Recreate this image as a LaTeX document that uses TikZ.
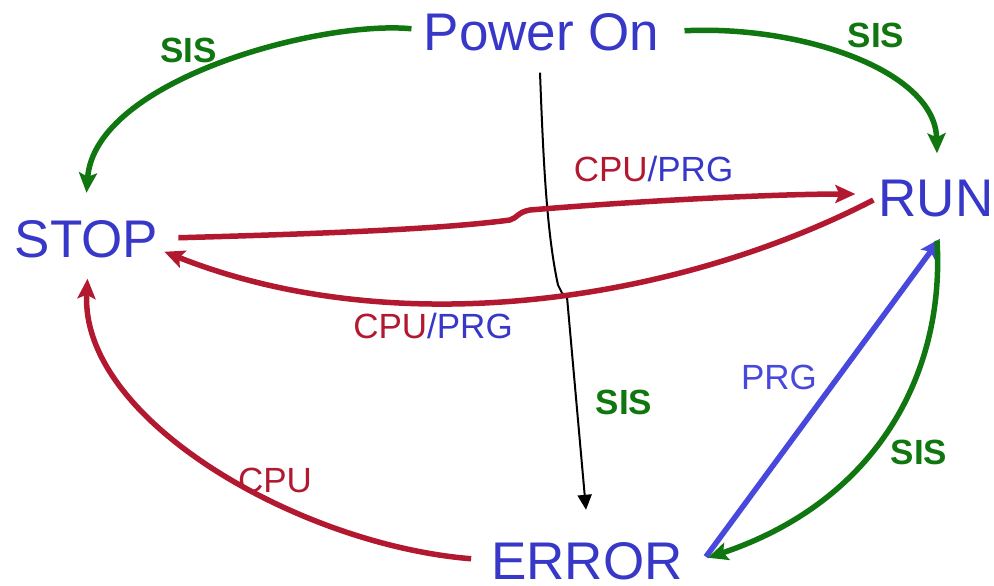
\documentclass[tikz,border=0pt]{standalone}
\usepackage{fontspec}
\setmainfont{Liberation Sans}
\usetikzlibrary{arrows.meta}
\definecolor{stateblue}{RGB}{55,55,200}
\definecolor{prgblue}{RGB}{72,72,220}
\definecolor{sisgreen}{RGB}{16,118,16}
\definecolor{cpured}{RGB}{178,24,48}
\tikzset{
  state/.style={inner sep=0pt, anchor=base, text=stateblue, font=\fontsize{53}{60}\selectfont},
  lbl/.style={inner sep=0pt, anchor=base, font=\fontsize{35}{40}\selectfont},
  sislbl/.style={lbl, text=sisgreen, font=\fontsize{35}{40}\selectfont\bfseries},
  bigtip/.style={-{Stealth[length=20pt,width=18pt,inset=4pt]}},
  sis/.style={bigtip, draw=sisgreen, line width=5.5pt},
  cpu/.style={bigtip, draw=cpured, line width=5.5pt},
  prg/.style={bigtip, draw=prgblue, line width=5.5pt},
  pwr/.style={-{Triangle[length=15pt,width=14pt]}, draw=black, line width=2pt},
}
\begin{document}
\begin{tikzpicture}[x=1pt, y=-1pt, line join=round]
\useasboundingbox (0,0) rectangle (994,586);

% states
\node[state] (pon) at (541.5,51) {Power On};
\node[state] (stop) at (86.5,257) {STOP};
\node[state] (run) at (936,216) {RUN};
\node[state] (err) at (587,579) {ERROR};

% transition labels
\node[sislbl] (s1) at (188.5,63) {SIS};
\node[sislbl] (s2) at (876,48) {SIS};
\node[sislbl] (s3) at (624,414) {SIS};
\node[sislbl] (s4) at (919,464) {SIS};
\node[lbl] (cp1) at (653.5,181) {\textcolor{cpured}{CPU}\textcolor{stateblue}{/PRG}};
\node[lbl] (cp2) at (433,338) {\textcolor{cpured}{CPU}\textcolor{stateblue}{/PRG}};
\node[lbl, text=prgblue] (p1) at (779,389) {PRG};
\node[lbl, text=cpured] (c1) at (275,492) {CPU};

% power on transitions
\draw[sis] ([xshift=-12pt,yshift=4pt]pon.west) .. controls (320,20) and (95,80) .. ([yshift=27pt]stop.north);
\draw[sis] ([xshift=25pt,yshift=2pt]pon.east) .. controls (800,25) and (935,70) .. ([xshift=1pt,yshift=26pt]run.north);
\draw[pwr] ([xshift=-1.5pt,yshift=-21pt]pon.south)
  .. controls (543,150) and (546,230) .. (558,285)
  -- (562,293) -- (567,297)
  -- ([xshift=-1pt,yshift=32pt]err.north);

% STOP <-> RUN
\draw[cpu] ([xshift=20pt,yshift=1pt]stop.east)
  .. controls (350,233) and (450,228) .. (510,220)
  .. controls (517,218) and (518,212) .. (530,210)
  .. controls (650,200) and (780,194) .. ([xshift=-23pt,yshift=4pt]run.west);
\draw[cpu] ([xshift=-5pt,yshift=-2pt]run.west) .. controls (680,300) and (400,345) .. ([xshift=6pt,yshift=-13pt]stop.east);

% ERROR transitions
\draw[cpu] ([xshift=-20pt,yshift=2pt]err.west) .. controls (300,545) and (80,420) .. ([xshift=1pt,yshift=-21pt]stop.south);
\draw[prg] ([xshift=23pt,yshift=4pt]err.east) -- ([xshift=4pt,yshift=-22pt]run.south);
\draw[sis] ([xshift=1pt,yshift=-24pt]run.south) .. controls (945,370) and (880,500) .. ([xshift=25pt,yshift=3pt]err.east);
\end{tikzpicture}
\end{document}
